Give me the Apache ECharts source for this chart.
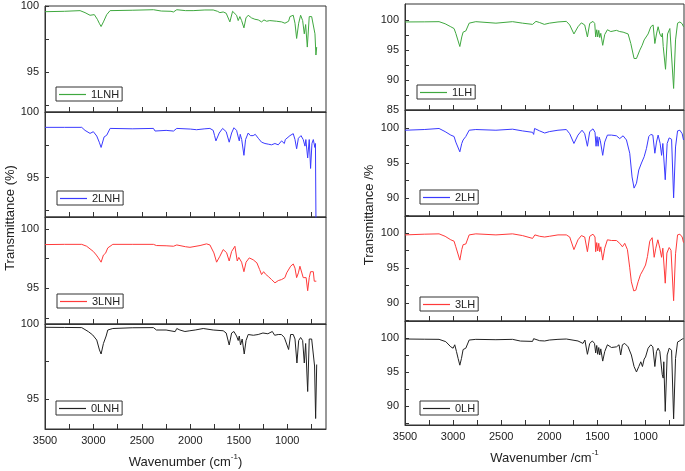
<!DOCTYPE html>
<html><head><meta charset="utf-8">
<script src="https://cdn.jsdelivr.net/npm/echarts@6/dist/echarts.min.js"></script>
<style>html,body{margin:0;padding:0;background:#fff}#c{width:685px;height:471px}</style>
</head><body><div id="c"></div>
<script>
// ---- data: [wavenumber (cm-1), transmittance (%)] ----
const LNH1 = [[3500,99.57],[3300,99.6],[3138,99.65],[3087,99.5],[3035,99.3],[2991,99.35],[2960,99.0],[2940,98.7],[2921,98.45],[2897,98.8],[2863,99.35],[2828,99.65],[2600,99.68],[2381,99.72],[2300,99.62],[2200,99.6],[2174,99.55],[2140,99.72],[2050,99.65],[1971,99.65],[1850,99.7],[1764,99.7],[1720,99.6],[1695,99.5],[1661,99.55],[1630,99.45],[1592,98.8],[1564,99.6],[1548,99.65],[1523,99.3],[1506,98.9],[1489,99.2],[1471,98.9],[1447,98.35],[1426,99.1],[1403,99.3],[1368,99.1],[1334,99.0],[1299,98.95],[1265,98.8],[1240,98.95],[1213,98.85],[1180,98.9],[1110,98.85],[1058,98.8],[1024,98.7],[1006,98.55],[986,98.85],[972,99.2],[938,99.3],[920,98.7],[903,97.55],[882,98.7],[862,99.3],[841,98.9],[824,97.9],[810,98.6],[793,96.9],[773,99.2],[748,99.2],[731,99.2],[714,97.9],[704,96.3],[696,96.9]];
const LNH2 = [[3500,98.83],[3300,98.83],[3121,98.83],[3087,98.6],[3035,98.37],[3001,98.5],[2966,98.17],[2940,97.7],[2921,97.3],[2890,98.1],[2863,98.23],[2828,98.75],[2600,98.72],[2381,98.75],[2364,98.55],[2250,98.6],[2174,98.55],[2140,98.75],[2000,98.7],[1936,98.65],[1850,98.72],[1798,98.75],[1764,98.6],[1750,98.2],[1736,97.8],[1702,98.4],[1667,98.75],[1630,98.5],[1599,97.7],[1574,98.4],[1550,98.8],[1523,98.6],[1506,98.1],[1495,97.8],[1485,98.3],[1470,97.9],[1447,96.7],[1430,97.9],[1403,98.4],[1380,98.2],[1352,98.2],[1330,98.3],[1299,98.0],[1265,97.7],[1230,97.6],[1196,97.55],[1162,97.5],[1127,97.6],[1093,97.5],[1058,97.8],[1040,97.9],[1030,97.6],[1020,97.9],[972,98.2],[938,98.35],[920,97.9],[903,97.2],[885,98.0],[858,98.2],[835,97.9],[817,97.4],[808,97.9],[789,96.5],[773,97.9],[759,95.7],[745,97.6],[731,97.9],[715,97.3],[709,97.6],[703,91.0]];
const LNH3 = [[3500,98.68],[3300,98.7],[3121,98.7],[3070,98.54],[3001,98.1],[2970,97.8],[2949,97.56],[2921,97.2],[2897,97.8],[2875,97.95],[2852,98.4],[2800,98.7],[2600,98.7],[2381,98.7],[2350,98.6],[2250,98.58],[2174,98.54],[2140,98.65],[2050,98.5],[2004,98.45],[1900,98.6],[1833,98.74],[1798,98.65],[1757,97.98],[1729,97.2],[1695,97.7],[1661,98.26],[1626,98.0],[1599,97.3],[1574,98.1],[1540,98.54],[1516,97.3],[1500,97.6],[1471,97.2],[1447,96.4],[1425,97.2],[1392,97.56],[1351,97.4],[1313,97.14],[1285,96.58],[1265,96.16],[1244,96.4],[1225,96.2],[1196,96.0],[1162,95.74],[1127,95.46],[1093,95.65],[1058,95.74],[1024,95.9],[1006,96.3],[990,96.2],[965,96.86],[938,97.05],[920,96.7],[903,95.9],[885,96.3],[869,96.86],[855,96.7],[835,95.9],[817,95.74],[805,95.9],[789,94.8],[773,95.9],[759,96.4],[745,96.45],[731,96.4],[721,95.6],[700,95.6]];
const LNH0 = [[3500,99.78],[3300,99.77],[3121,99.76],[3052,99.49],[3008,99.27],[2990,99.3],[2966,98.93],[2938,98.27],[2921,98.0],[2897,98.7],[2869,99.2],[2852,99.6],[2800,99.7],[2600,99.75],[2381,99.76],[2350,99.6],[2250,99.6],[2157,99.49],[2140,99.7],[2108,99.6],[2056,99.5],[2036,99.5],[2005,99.55],[1950,99.6],[1867,99.7],[1764,99.6],[1661,99.55],[1630,99.4],[1599,98.6],[1574,99.4],[1550,99.5],[1523,99.2],[1506,98.9],[1495,99.2],[1482,98.6],[1465,99.0],[1444,98.0],[1425,98.9],[1403,99.3],[1350,99.25],[1300,99.3],[1251,99.4],[1200,99.35],[1154,99.5],[1130,99.25],[1093,99.3],[1060,99.3],[1030,99.1],[1015,99.2],[986,98.3],[965,99.3],[938,99.3],[920,99.0],[900,97.4],[882,98.9],[862,99.1],[841,98.9],[824,97.4],[810,98.7],[789,95.5],[773,99.0],[748,99.0],[731,98.9],[718,97.2],[707,93.7],[700,96.0],[696,97.3]];
const LH1 = [[3500,99.7],[3300,99.72],[3146,99.75],[3083,99.4],[3024,98.9],[2990,98.6],[2972,97.8],[2955,97.5],[2930,95.6],[2910,97.2],[2896,98.0],[2868,98.2],[2833,99.5],[2764,99.75],[2555,99.5],[2382,99.75],[2278,99.5],[2174,99.3],[2163,99.0],[2139,99.8],[2100,99.6],[2052,99.3],[2000,99.5],[1910,99.7],[1823,99.8],[1788,99.2],[1744,97.7],[1702,98.9],[1667,99.55],[1632,99.2],[1604,97.2],[1580,99.45],[1546,99.8],[1528,99.45],[1518,97.2],[1507,98.4],[1497,97.2],[1486,98.3],[1476,97.1],[1465,97.8],[1445,95.8],[1424,97.6],[1396,98.4],[1361,98.1],[1302,98.3],[1268,98.1],[1233,98.0],[1216,98.3],[1181,97.7],[1153,96.1],[1119,93.6],[1094,93.6],[1059,95.0],[1035,95.8],[1014,96.7],[997,96.4],[973,97.7],[945,98.9],[921,99.2],[903,96.1],[886,97.7],[869,98.9],[851,97.7],[833,97.2],[825,97.8],[816,95.6],[792,91.8],[771,97.7],[747,98.6],[729,98.3],[708,88.6],[688,96.7],[667,99.5],[643,99.7],[619,99.4],[605,98.9]];
const LH2 = [[3500,99.7],[3300,99.8],[3146,99.95],[3083,99.5],[3024,99.0],[2990,98.8],[2972,98.0],[2955,97.9],[2930,96.6],[2910,97.8],[2896,98.3],[2868,98.8],[2833,99.7],[2764,99.8],[2555,99.7],[2382,99.85],[2278,99.6],[2174,99.4],[2163,99.1],[2153,99.95],[2100,99.6],[2048,99.3],[2000,99.5],[1910,99.7],[1823,99.8],[1788,99.2],[1744,97.8],[1702,99.0],[1660,99.7],[1632,99.2],[1604,97.4],[1580,99.5],[1546,99.9],[1525,99.4],[1514,97.4],[1504,98.8],[1493,97.4],[1482,98.7],[1470,98.2],[1445,96.1],[1424,98.0],[1396,99.0],[1354,99.0],[1302,98.9],[1268,98.5],[1233,98.9],[1198,98.3],[1164,96.4],[1140,93.0],[1119,91.4],[1094,92.1],[1070,94.0],[1042,95.0],[1014,95.9],[990,97.1],[966,98.8],[945,99.1],[924,99.0],[903,96.4],[886,98.0],[869,99.0],[848,97.8],[833,96.1],[820,97.8],[795,92.6],[775,97.8],[754,98.6],[729,98.4],[708,90.0],[688,97.3],[667,99.6],[643,99.7],[619,99.2],[605,98.3]];
const LH3 = [[3500,99.7],[3300,99.8],[3146,99.85],[3083,99.5],[3024,99.0],[2990,98.8],[2972,98.0],[2955,97.9],[2930,96.1],[2910,97.6],[2896,98.3],[2868,98.4],[2833,99.7],[2764,99.85],[2555,99.7],[2382,99.85],[2278,99.6],[2174,99.2],[2163,99.0],[2150,99.7],[2100,99.5],[2048,99.4],[2000,99.5],[1910,99.7],[1823,99.7],[1788,99.4],[1744,97.6],[1702,99.0],[1667,99.6],[1632,99.4],[1604,97.3],[1580,99.5],[1546,99.8],[1525,99.4],[1518,97.3],[1507,98.6],[1497,97.4],[1486,98.5],[1476,97.3],[1465,98.0],[1445,96.1],[1424,97.8],[1396,99.0],[1354,98.9],[1302,98.9],[1268,98.5],[1240,98.0],[1216,98.5],[1188,97.6],[1164,95.0],[1147,93.0],[1122,91.7],[1101,91.8],[1077,93.0],[1053,94.0],[1025,94.7],[1000,95.4],[980,96.6],[956,98.8],[931,99.3],[910,96.5],[893,97.8],[872,99.0],[851,97.8],[833,96.5],[820,97.8],[795,92.8],[778,97.1],[754,97.9],[735,97.5],[708,90.3],[688,97.0],[667,99.7],[643,99.8],[619,99.4],[605,98.6]];
const LH0 = [[3500,99.85],[3300,99.82],[3146,99.8],[3076,99.46],[3024,98.7],[3000,98.5],[2983,99.0],[2965,98.0],[2948,97.0],[2930,96.0],[2913,97.0],[2896,98.3],[2868,98.5],[2833,99.7],[2764,99.8],[2555,99.75],[2382,99.8],[2300,99.55],[2174,99.5],[2163,99.9],[2100,99.6],[2048,99.56],[2000,99.7],[1910,99.8],[1823,99.85],[1702,99.56],[1650,99.2],[1630,99.7],[1604,97.6],[1580,99.2],[1553,99.56],[1530,99.2],[1518,97.8],[1507,98.9],[1497,97.6],[1486,98.6],[1476,97.5],[1465,98.4],[1445,96.6],[1424,98.0],[1396,99.0],[1354,98.6],[1302,98.7],[1275,99.0],[1258,97.5],[1240,99.0],[1216,99.2],[1181,98.7],[1147,97.5],[1119,95.8],[1094,95.0],[1070,95.8],[1049,96.5],[1032,95.8],[1014,96.9],[1000,97.2],[973,98.5],[945,99.0],[924,98.7],[903,95.8],[886,98.0],[869,98.5],[851,98.0],[826,94.6],[816,94.1],[810,96.5],[795,89.2],[775,97.5],[754,98.5],[729,98.2],[708,88.1],[688,97.0],[667,99.4],[643,99.6],[619,99.85],[605,99.9]];

const seriesNames = ['1LNH','2LNH','3LNH','0LNH','1LH','2LH','3LH','0LH'];
const seriesData = [LNH1, LNH2, LNH3, LNH0, LH1, LH2, LH3, LH0];
const xTickValues = [3500,3250,3000,2750,2500,2250,2000,1750,1500,1250,1000,750];
const xLabelValues = [3500,3000,2500,2000,1500,1000];
const yLabelsLeft = [95, 100];
const yTicksLeft = [92.5, 95, 97.5, 100];
const yLabelsRightTop = [85, 90, 95, 100];
const yLabelsRight = [90, 95, 100];
const yTicksRight = [87.5, 90, 92.5, 95, 97.5, 100];

// ---- layout / style ----
const colors = ['#3fa83f','#3a3aff','#ff3a3a','#222222','#3fa83f','#3a3aff','#ff3a3a','#222222'];
const grids = [
  {left:45, top:6,   width:281, height:106},
  {left:45, top:112, width:281, height:105},
  {left:45, top:217, width:281, height:107},
  {left:45, top:324, width:281, height:105},
  {left:405, top:4,   width:279, height:106},
  {left:405, top:110, width:279, height:106},
  {left:405, top:216, width:279, height:105},
  {left:405, top:321, width:279, height:104}
];
const yRanges = [[92,100],[92,100],[92,101],[93,100],[85,102.7],[87.4,102.6],[87.4,102.4],[87.2,102.5]];
const legendPos = [[56,87],[57,191],[57,294],[56,401],[417,85],[420,190],[420,297],[420,401]];
const FONT = 'Liberation Sans, Arial, sans-serif';
const axisColor = '#333';

const option = {
  animation: false,
  backgroundColor: '#fff',
  grid: grids.map(g => Object.assign({show:true, borderColor:axisColor, borderWidth:1, backgroundColor:'transparent', containLabel:false}, g)),
  xAxis: grids.map((g, i) => {
    const bottom = (i === 3 || i === 7);
    return {
      type:'value', gridIndex:i, inverse:true, min:600, max:3500,
      axisLine:{show:true, lineStyle:{color:axisColor, width:1}},
      axisTick:{show:true, inside:true, length:5, customValues:xTickValues, lineStyle:{color:axisColor}},
      axisLabel:{show:bottom, customValues:xLabelValues, formatter:v => String(v), color:'#222', fontSize:11, fontFamily:FONT, margin:6},
      splitLine:{show:false},
      name: bottom ? (i === 3 ? '{a|Wavenumber (cm}{s|-1}{a|)}' : '{a|Wavenumber /cm}{s|-1}') : '',
      nameLocation:'middle', nameGap:24,
      nameTextStyle:{rich:{
        a:{fontSize:13, fontFamily:FONT, color:'#222', verticalAlign:'bottom', lineHeight:16},
        s:{fontSize:8, fontFamily:FONT, color:'#222', verticalAlign:'top', lineHeight:16}
      }}
    };
  }),
  yAxis: grids.map((g, i) => {
    const right = i >= 4;
    const labels = right ? (i === 4 ? yLabelsRightTop : yLabelsRight) : yLabelsLeft;
    const ticks = right ? yTicksRight : yTicksLeft;
    return {
      type:'value', gridIndex:i, min:yRanges[i][0], max:yRanges[i][1],
      axisLine:{show:true, lineStyle:{color:axisColor, width:1}},
      axisTick:{show:true, inside:true, length:4, customValues:ticks, lineStyle:{color:axisColor}},
      axisLabel:{customValues:labels, formatter:v => String(v), color:'#222', fontSize:11, fontFamily:FONT, margin:6},
      splitLine:{show:false}
    };
  }),
  legend: seriesNames.map((n, i) => ({
    data:[n], left:legendPos[i][0], top:legendPos[i][1], orient:'horizontal',
    icon:'rect', itemWidth:27, itemHeight:1.2, itemGap:4,
    padding:[2,3,1,3], borderColor:'#333', borderWidth:1, borderRadius:0,
    backgroundColor:'#fff', selectedMode:false,
    textStyle:{fontSize:11, fontFamily:FONT, color:'#222'}
  })),
  series: seriesNames.map((n, i) => ({
    name:n, type:'line', xAxisIndex:i, yAxisIndex:i, data:seriesData[i],
    showSymbol:false, symbol:'none', clip:true,
    lineStyle:{color:colors[i], width:1}, itemStyle:{color:colors[i]}
  })),
  graphic: [
    {type:'text', x:10, y:218, rotation:Math.PI/2, style:{text:'Transmittance (%)', font:'13px Liberation Sans, Arial, sans-serif', fill:'#222', align:'center', verticalAlign:'middle'}},
    {type:'text', x:369, y:215, rotation:Math.PI/2, style:{text:'Transmittance /%', font:'13px Liberation Sans, Arial, sans-serif', fill:'#222', align:'center', verticalAlign:'middle'}}
  ]
};
const chart = echarts.init(document.getElementById('c'), null, {renderer:'canvas'});
chart.setOption(option);
</script>
</body></html>
